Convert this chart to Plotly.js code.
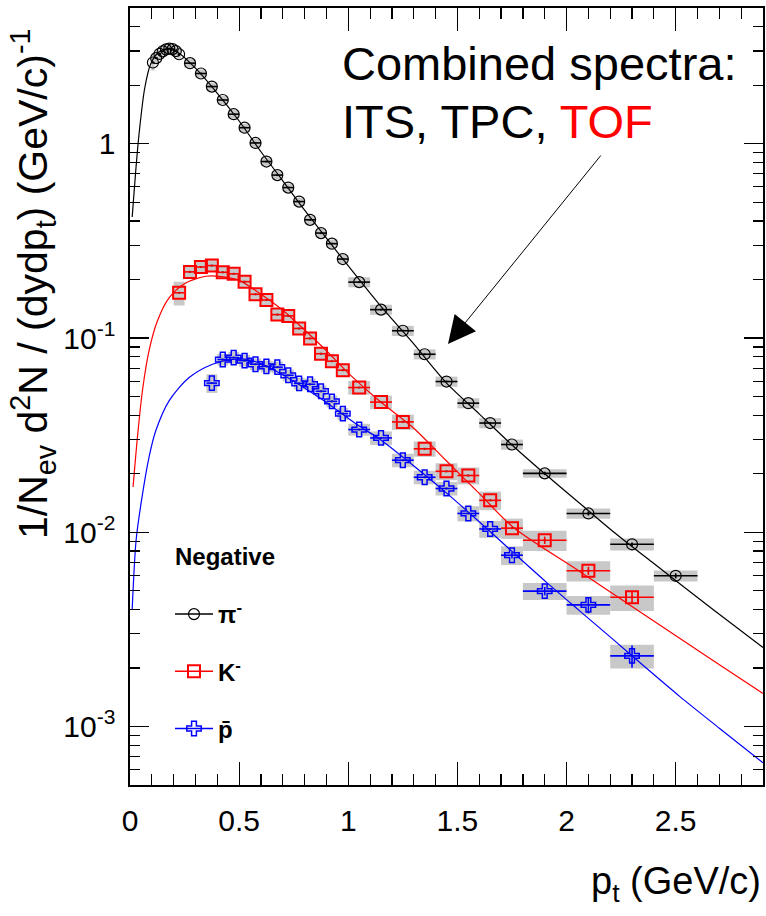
<!DOCTYPE html>
<html>
<head>
<meta charset="utf-8">
<script src="https://cdn.plot.ly/plotly-3.0.1.min.js"></script>
<style>html,body{margin:0;padding:0;background:#fff;}</style>
</head>
<body>
<div id="chart" style="width:766px;height:916px;"></div>
<script>
// ---------- data ----------
// pi- : pt, yield, half bin width, relative systematic, stat error
const piPt   = [0.105,0.12,0.135,0.15,0.165,0.18,0.195,0.21,0.225,0.275,0.325,0.375,0.425,0.475,0.525,0.575,0.625,0.675,0.725,0.775,0.825,0.875,0.925,0.975,1.05,1.15,1.25,1.35,1.45,1.55,1.65,1.75,1.9,2.1,2.3,2.5];
const piY    = [2.62,2.76,2.90,2.99,3.06,3.09,3.07,3.00,2.89,2.60,2.30,1.97,1.68,1.42,1.21,1.01,0.81,0.69,0.595,0.504,0.406,0.347,0.306,0.255,0.194,0.140,0.109,0.0825,0.0597,0.0462,0.0365,0.0283,0.0201,0.0125,0.00867,0.00597];
const piHW   = [0.0075,0.0075,0.0075,0.0075,0.0075,0.0075,0.0075,0.0075,0.0075,0.025,0.025,0.025,0.025,0.025,0.025,0.025,0.025,0.025,0.025,0.025,0.025,0.025,0.025,0.025,0.05,0.05,0.05,0.05,0.05,0.05,0.05,0.05,0.1,0.1,0.1,0.1];
const piSys  = [0.09,0.05,0.05,0.05,0.05,0.05,0.05,0.05,0.05,0.05,0.05,0.05,0.05,0.05,0.05,0.05,0.05,0.05,0.05,0.05,0.05,0.05,0.05,0.05,0.06,0.06,0.06,0.06,0.06,0.06,0.06,0.06,0.05,0.06,0.07,0.065];
const piStat = [0,0,0,0,0,0,0,0,0,0,0,0,0,0,0,0,0,0,0,0,0,0,0,0,0,0,0,0,0,0,0,0,0.0004,0.0003,0.0002,0.00018];

// K-
const kPt   = [0.225,0.275,0.325,0.375,0.425,0.475,0.525,0.575,0.625,0.675,0.725,0.775,0.825,0.875,0.925,0.975,1.05,1.15,1.25,1.35,1.45,1.55,1.65,1.75,1.9,2.1,2.3];
const kY    = [0.171,0.219,0.232,0.236,0.218,0.214,0.195,0.168,0.157,0.132,0.130,0.112,0.0995,0.0830,0.0760,0.0683,0.0556,0.0468,0.0370,0.0269,0.0206,0.0196,0.0146,0.0105,0.0091,0.00634,0.00463];
const kHW   = [0.025,0.025,0.025,0.025,0.025,0.025,0.025,0.025,0.025,0.025,0.025,0.025,0.025,0.025,0.025,0.025,0.05,0.05,0.05,0.05,0.05,0.05,0.05,0.05,0.1,0.1,0.1];
const kSys  = [0.14,0.08,0.07,0.07,0.07,0.07,0.07,0.07,0.07,0.07,0.07,0.07,0.07,0.07,0.07,0.07,0.08,0.08,0.09,0.09,0.1,0.1,0.11,0.12,0.12,0.12,0.15];
const kStat = [0,0,0,0,0,0,0,0,0,0,0,0,0,0,0,0,0,0,0,0,0,0,0,0,0.0004,0.0003,0.00035];

// anti-p
const pPt   = [0.375,0.425,0.475,0.525,0.575,0.625,0.675,0.725,0.775,0.825,0.875,0.925,0.975,1.05,1.15,1.25,1.35,1.45,1.55,1.65,1.75,1.9,2.1,2.3];
const pY    = [0.0586,0.0775,0.0793,0.0765,0.0733,0.0715,0.0708,0.0643,0.0584,0.0578,0.0532,0.0472,0.0408,0.0338,0.0306,0.0235,0.0192,0.0168,0.0125,0.0104,0.00762,0.00498,0.00423,0.00231];
const pHW   = [0.025,0.025,0.025,0.025,0.025,0.025,0.025,0.025,0.025,0.025,0.025,0.025,0.025,0.05,0.05,0.05,0.05,0.05,0.05,0.05,0.05,0.1,0.1,0.1];
const pSys  = [0.11,0.07,0.07,0.07,0.07,0.07,0.07,0.07,0.07,0.07,0.07,0.07,0.07,0.07,0.08,0.08,0.08,0.08,0.09,0.1,0.11,0.1,0.11,0.14];
const pStat = [0,0,0,0,0,0,0,0,0,0,0,0,0,0,0,0,0,0,0,0,0.0003,0.00025,0.0004,0.0003];

// fit curves
const piFitX = [0.01,0.026,0.041,0.067,0.095,0.13,0.17,0.22,0.3,0.4,0.5,0.6,0.7,0.8,0.9,1.0,1.142,1.295,1.448,1.601,1.754,1.907,2.06,2.213,2.4,2.671,2.9];
const piFitY = [0.42,0.72,1.11,1.92,2.58,2.95,3.08,2.95,2.45,1.82,1.31,0.91,0.645,0.455,0.327,0.235,0.149,0.0946,0.059,0.0406,0.0279,0.0197,0.0141,0.0101,0.0069,0.0040,0.00255];
const kFitX  = [0.014,0.034,0.057,0.087,0.125,0.179,0.255,0.347,0.42,0.5,0.6,0.7,0.8,0.9,1.0,1.142,1.295,1.448,1.601,1.754,2.06,2.365,2.671,2.9];
const kFitY  = [0.0171,0.0308,0.0535,0.0858,0.122,0.161,0.192,0.208,0.207,0.198,0.168,0.139,0.110,0.086,0.066,0.0475,0.0347,0.0234,0.0158,0.01065,0.00629,0.00371,0.00219,0.00148];
const pFitX  = [0.01,0.028,0.054,0.087,0.118,0.179,0.271,0.378,0.469,0.55,0.668,0.867,1.05,1.142,1.295,1.448,1.601,1.754,1.907,2.06,2.213,2.365,2.518,2.7,2.9];
const pFitY  = [0.004,0.0091,0.0149,0.0243,0.0333,0.0475,0.0626,0.0733,0.0777,0.0770,0.0677,0.0494,0.0352,0.0303,0.0222,0.0160,0.0113,0.0079,0.00554,0.00394,0.00281,0.0020,0.00143,0.00098,0.00065];

// axis ticks / labels
const xTickVals = [0,0.5,1,1.5,2,2.5];
const xTickText = ['0','0.5','1','1.5','2','2.5'];
const yTickVals = [0.001,0.01,0.1,1];
const yTickText = ['10<sup>-3</sup>','10<sup>-2</sup>','10<sup>-1</sup>','1'];
const legendNames = ['<b>π<sup>-</sup></b>','<b>K<sup>-</sup></b>','<b>p̄</b>'];

// ---------- build ----------
const FONT = 'Liberation Sans, Arial, Helvetica, sans-serif';
const GRAY = '#c8c8c8';

function sysBars(pt, y, hw, sys) {
  return {
    type: 'bar', x: pt,
    base: y.map((v, i) => v * (1 - sys[i])),
    y: y.map((v, i) => v * 2 * sys[i]),
    width: hw.map(h => 2 * h),
    marker: {color: GRAY, line: {width: 0}},
    showlegend: false, hoverinfo: 'skip'
  };
}
function points(pt, y, hw, stat, color, symbol, size, lw) {
  return {
    type: 'scatter', mode: 'markers', x: pt, y: y,
    marker: {symbol: symbol, size: size, color: color, line: {color: color, width: lw}},
    error_x: {type: 'data', array: hw, width: 0, thickness: 1.6, color: color},
    error_y: {type: 'data', array: stat, width: 0, thickness: 1.6, color: color},
    showlegend: false, hoverinfo: 'skip'
  };
}
function dots(pt, y) {
  return {type: 'scatter', mode: 'markers', x: pt, y: y,
    marker: {symbol: 'square', size: 2, color: '#333'}, showlegend: false, hoverinfo: 'skip'};
}
function fit(x, y, color) {
  return {type: 'scatter', mode: 'lines', x: x, y: y,
    line: {color: color, width: 1.2, shape: 'spline', smoothing: 0.8},
    showlegend: false, hoverinfo: 'skip'};
}
function legendItem(name, color, symbol, size, lw, grp) {
  return {type: 'scatter', mode: 'lines+markers', x: [null], y: [null], name: name,
    legendgroup: grp,
    line: {color: color, width: 1.5},
    marker: {symbol: symbol, size: size, color: color, line: {color: color, width: lw}},
    showlegend: true};
}

const BLACK = '#000000', RED = '#ff0000', BLUE = '#0000ff';

const traces = [
  sysBars(piPt, piY, piHW, piSys),
  sysBars(kPt, kY, kHW, kSys),
  sysBars(pPt, pY, pHW, pSys),
  fit(piFitX, piFitY, BLACK),
  fit(kFitX, kFitY, RED),
  fit(pFitX, pFitY, BLUE),
  dots(piPt, piY), dots(kPt, kY), dots(pPt, pY),
  points(piPt, piY, piHW, piStat, BLACK, 'circle-open', 11, 1.2),
  points(kPt, kY, kHW, kStat, RED, 'square-open', 12, 2),
  points(pPt, pY, pHW, pStat, BLUE, 'cross-open', 12, 1.5),
  legendItem(legendNames[0], BLACK, 'circle-open', 11, 1.2, 'a'),
  legendItem(legendNames[1], RED, 'square-open', 12, 2, 'b'),
  legendItem(legendNames[2], BLUE, 'cross-open', 12, 1.5, 'c')
];

const minorY = [];
[0.0001, 0.001, 0.01, 0.1, 1].forEach(d => { for (let k = 2; k <= 9; k++) minorY.push(k * d); });

const L = 130, R = 763, T = 8, B = 785;
const px = x => (x - L) / (R - L);
const py = y => (B - y) / (B - T);

const layout = {
  width: 766, height: 916,
  margin: {l: L, r: 766 - R, t: T, b: 916 - B, pad: 0},
  paper_bgcolor: '#ffffff', plot_bgcolor: '#ffffff',
  barmode: 'overlay',
  font: {family: FONT, color: '#000'},
  showlegend: true,
  legend: {
    x: px(170), y: py(592), xanchor: 'left', yanchor: 'top',
    bgcolor: 'rgba(0,0,0,0)', borderwidth: 0,
    font: {family: FONT, size: 24, color: '#000'},
    traceorder: 'grouped', tracegroupgap: 23, itemwidth: 38
  },
  xaxis: {
    range: [0, 2.9], tickmode: 'array', tickvals: xTickVals, ticktext: xTickText,
    ticks: 'inside', ticklen: 23, tickwidth: 1.2, tickcolor: '#000',
    showline: true, linecolor: '#000', linewidth: 1.6, mirror: 'ticks',
    showgrid: false, zeroline: false, ticklabelstandoff: 8,
    tickfont: {family: FONT, size: 30, color: '#000'},
    minor: {tickmode: 'linear', tick0: 0, dtick: 0.1, ticks: 'inside', ticklen: 11, tickwidth: 1.2, tickcolor: '#000', showgrid: false}
  },
  yaxis: {
    type: 'log', range: [Math.log10(5e-4), Math.log10(5)],
    tickmode: 'array', tickvals: yTickVals, ticktext: yTickText,
    ticks: 'inside', ticklen: 19, tickwidth: 1.2, tickcolor: '#000',
    showline: true, linecolor: '#000', linewidth: 1.6, mirror: 'ticks',
    showgrid: false, zeroline: false, ticklabelstandoff: 7,
    tickfont: {family: FONT, size: 30, color: '#000'},
    minor: {tickmode: 'array', tickvals: minorY, ticks: 'inside', ticklen: 10, tickwidth: 1.2, tickcolor: '#000', showgrid: false}
  },
  annotations: [
    {xref: 'paper', yref: 'paper', x: px(340), y: py(63), xanchor: 'left', yanchor: 'middle',
     text: 'Combined spectra:', showarrow: false, font: {family: FONT, size: 47, color: '#000'}},
    {xref: 'paper', yref: 'paper', x: px(340), y: py(121), xanchor: 'left', yanchor: 'middle',
     text: 'ITS, TPC, <span style="color:#ff0000">TOF</span>', showarrow: false,
     font: {family: FONT, size: 47, color: '#000'}},
    {xref: 'paper', yref: 'paper', x: px(448), y: py(344), text: '', showarrow: true,
     axref: 'pixel', ayref: 'pixel', ax: 154, ay: -190,
     arrowhead: 2, arrowsize: 5.5, arrowwidth: 1, arrowcolor: '#000', standoff: 0},
    {xref: 'paper', yref: 'paper', x: px(173), y: py(557), xanchor: 'left', yanchor: 'middle',
     text: '<b>Negative</b>', showarrow: false, font: {family: FONT, size: 24, color: '#000'}},
    {xref: 'paper', yref: 'paper', x: px(33), y: py(284), xanchor: 'center', yanchor: 'middle',
     textangle: -90, showarrow: false,
     text: '1/N<sub>ev</sub> d<sup>2</sup>N / (dydp<sub>t</sub>) (GeV/c)<sup>-1</sup>',
     font: {family: FONT, size: 41, color: '#000'}},
    {xref: 'paper', yref: 'paper', x: px(763), y: py(884), xanchor: 'right', yanchor: 'middle',
     text: 'p<sub>t</sub> (GeV/c)', showarrow: false,
     font: {family: FONT, size: 38, color: '#000'}}
  ]
};

Plotly.newPlot('chart', traces, layout, {staticPlot: true, displayModeBar: false});
</script>
</body>
</html>
